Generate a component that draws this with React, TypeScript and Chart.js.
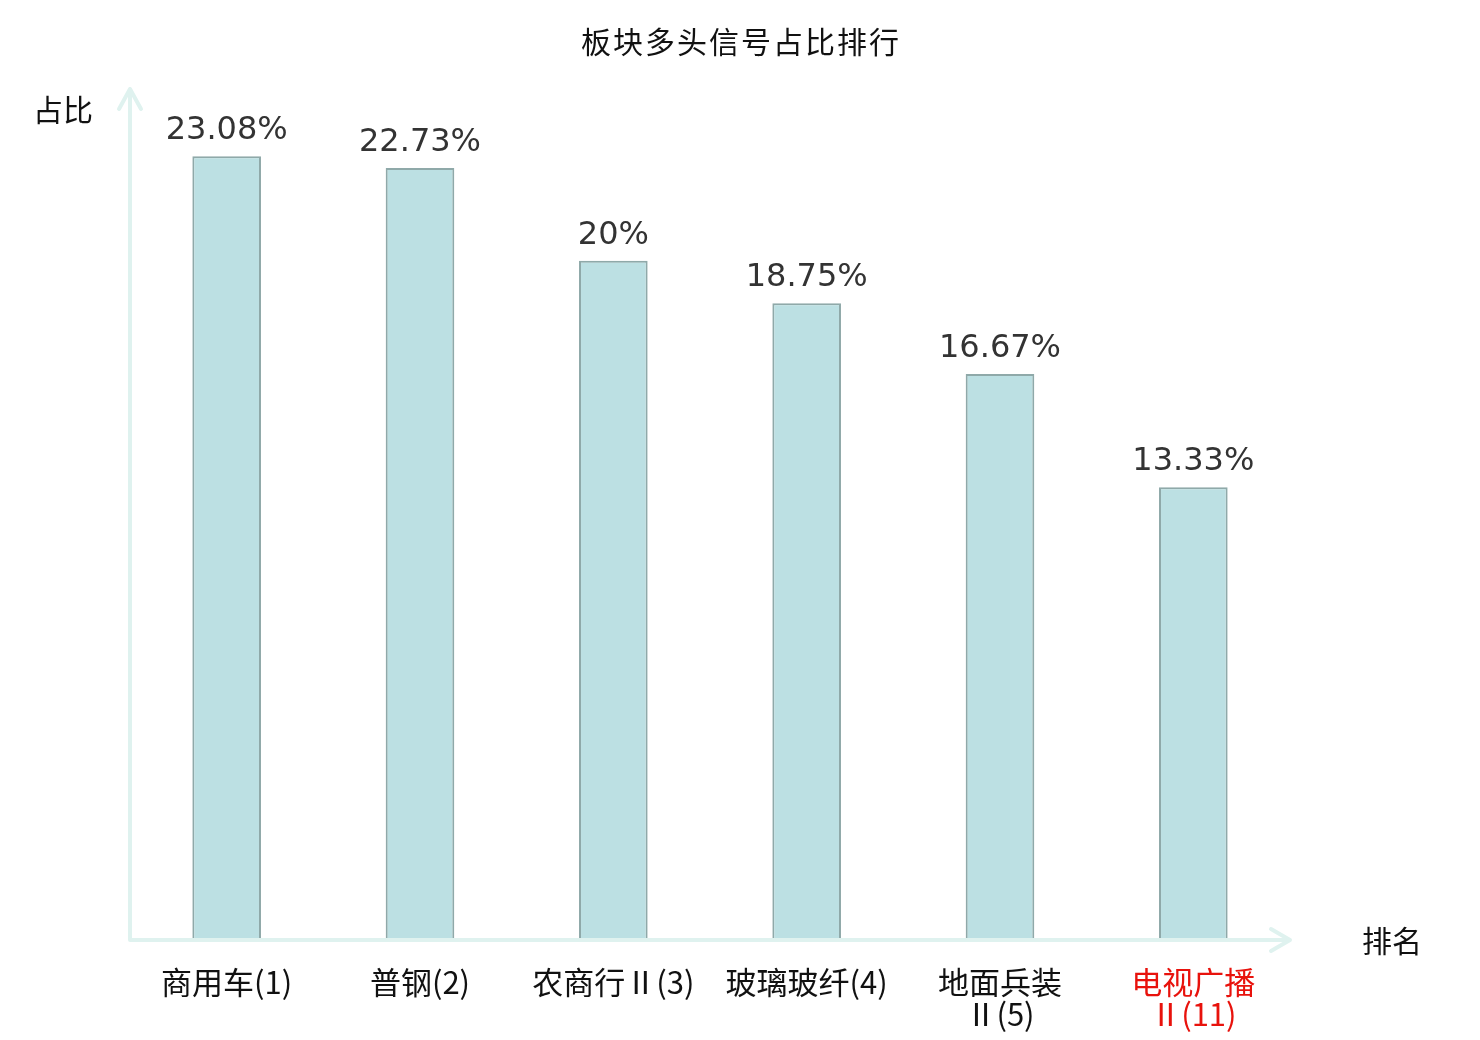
import React, { useEffect, useRef } from "react";
import { Chart, registerables } from "chart.js";

Chart.register(...registerables);

const categories: (string | string[])[] = [
  "商用车(1)",
  "普钢(2)",
  "农商行Ⅱ(3)",
  "玻璃玻纤(4)",
  ["地面兵装", "Ⅱ(5)"],
  ["电视广播", "Ⅱ(11)"],
];
const values: number[] = [23.08, 22.73, 20, 18.75, 16.67, 13.33];
const valueLabels: string[] = ["23.08%", "22.73%", "20%", "18.75%", "16.67%", "13.33%"];
const highlightIndex = 5;
const titleText = "板块多头信号占比排行";
const yName = "占比";
const xName = "排名";

const AXIS_COLOR = "#dff2ef";
const CJK = '"Noto Sans CJK SC", "Noto Sans", sans-serif';

const overlay = {
  id: "overlay",
  afterDatasetsDraw(chart: any) {
    const { ctx, chartArea } = chart;
    const { left, right, top, bottom } = chartArea;
    ctx.save();
    // title
    ctx.fillStyle = "#111";
    ctx.font = `30px ${CJK}`;
    ctx.textAlign = "center";
    ctx.textBaseline = "middle";
    try {
      (ctx as any).letterSpacing = "2px";
    } catch (e) {}
    ctx.fillText(titleText, chart.width / 2 + 1, 42);
    try {
      (ctx as any).letterSpacing = "0px";
    } catch (e) {}

    // axes
    ctx.strokeStyle = AXIS_COLOR;
    ctx.lineWidth = 4;
    ctx.lineCap = "round";
    ctx.lineJoin = "round";
    ctx.beginPath();
    ctx.moveTo(left, bottom);
    ctx.lineTo(left, top - 2);
    ctx.moveTo(left - 11, top + 18);
    ctx.lineTo(left, top - 2);
    ctx.lineTo(left + 11, top + 18);
    ctx.moveTo(left, bottom);
    ctx.lineTo(right, bottom);
    ctx.moveTo(right - 19, bottom - 11);
    ctx.lineTo(right, bottom);
    ctx.lineTo(right - 19, bottom + 11);
    ctx.stroke();

    // axis names
    ctx.fillStyle = "#111";
    ctx.font = `30px ${CJK}`;
    ctx.textAlign = "center";
    ctx.textBaseline = "middle";
    ctx.fillText(yName, left - 67, top + 19);
    ctx.fillText(xName, right + 102, bottom + 1);

    // value labels
    const meta = chart.getDatasetMeta(0);
    ctx.fillStyle = "#333";
    ctx.font = '32px "DejaVu Sans", sans-serif';
    ctx.textBaseline = "alphabetic";
    meta.data.forEach((bar: any, i: number) => {
      ctx.fillText(valueLabels[i], bar.x, bar.y - 17);
    });
    ctx.restore();
  },
};

export default function App() {
  const ref = useRef<HTMLCanvasElement>(null);
  useEffect(() => {
    document.body.style.margin = "0";
    const chart = new Chart(ref.current as HTMLCanvasElement, {
      type: "bar",
      data: {
        labels: categories,
        datasets: [
          {
            data: values,
            backgroundColor: "#bce0e3",
            borderColor: "#8fa9a9",
            borderWidth: 2,
            categoryPercentage: 1,
            barPercentage: 0.355,
          },
        ],
      },
      options: {
        responsive: false,
        animation: false,
        devicePixelRatio: 1,
        layout: { padding: { left: 130, right: 190, top: 91, bottom: 0 } },
        plugins: {
          legend: { display: false },
          tooltip: { enabled: false },
          title: { display: false },
        },
        scales: {
          x: {
            grid: { display: false, drawTicks: false },
            border: { display: false },
            ticks: {
              padding: 26,
              autoSkip: false,
              maxRotation: 0,
              font: { family: CJK, size: 31, lineHeight: 1.03 },
              color: (c: any) => (c.index === highlightIndex ? "#e8120c" : "#111"),
            },
            afterFit: (scale: any) => {
              scale.height = 100;
            },
          },
          y: {
            display: false,
            min: 0,
            max: 25,
          },
        },
      },
      plugins: [overlay],
    });
    return () => chart.destroy();
  }, []);
  return (
    <div style={{ width: 1480, height: 1040, background: "#fff" }}>
      <canvas ref={ref} width={1480} height={1040} style={{ display: "block" }} />
    </div>
  );
}
